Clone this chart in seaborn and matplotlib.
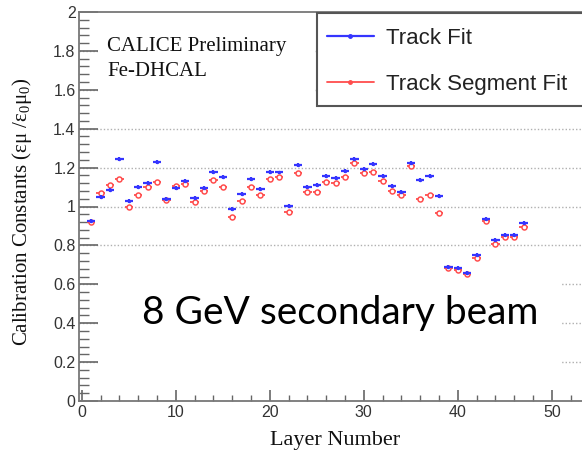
import numpy as np
import pandas as pd
import matplotlib
matplotlib.use("Agg")
import matplotlib.pyplot as plt
from matplotlib.lines import Line2D
from matplotlib.patches import Rectangle
from matplotlib.ticker import MultipleLocator
import seaborn as sns

# Calibration constants per layer for the two fit methods
layers = list(range(1, 48))
track_fit = [0.925, 1.047, 1.085, 1.245, 1.030, 1.098, 1.122, 1.227, 1.039, 1.093,
             1.131, 1.042, 1.093, 1.176, 1.150, 0.986, 1.064, 1.140, 1.088, 1.179,
             1.175, 1.003, 1.213, 1.098, 1.109, 1.158, 1.148, 1.183, 1.244, 1.193,
             1.217, 1.158, 1.107, 1.076, 1.222, 1.136, 1.158, 1.055, 0.690, 0.682,
             0.660, 0.751, 0.935, 0.828, 0.853, 0.853, 0.917]
segment_fit = [0.920, 1.071, 1.112, 1.140, 0.995, 1.059, 1.098, 1.126, 1.033, 1.105,
               1.116, 1.021, 1.081, 1.136, 1.098, 0.948, 1.028, 1.098, 1.059, 1.143,
               1.150, 0.971, 1.174, 1.076, 1.076, 1.128, 1.121, 1.150, 1.222, 1.171,
               1.176, 1.133, 1.080, 1.059, 1.208, 1.039, 1.061, 0.968, 0.685, 0.675,
               0.655, 0.734, 0.925, 0.807, 0.841, 0.841, 0.896]
series_names = ["Track Fit", "Track Segment Fit"]
yticks = [0, 0.2, 0.4, 0.6, 0.8, 1, 1.2, 1.4, 1.6, 1.8, 2]
xticks = [0, 10, 20, 30, 40, 50]

df = pd.DataFrame({
    "layer": layers * 2,
    "value": track_fit + segment_fit,
    "fit": [series_names[0]] * len(layers) + [series_names[1]] * len(layers),
})

sns.set_theme(style="white")
plt.rcParams["font.family"] = ["Liberation Sans", "DejaVu Sans"]
plt.rcParams["mathtext.fontset"] = "custom"
plt.rcParams["mathtext.rm"] = "Liberation Serif"
plt.rcParams["mathtext.it"] = "Liberation Serif"

W, H = 582, 451
fig = plt.figure(figsize=(W / 100, H / 100), dpi=100)
fig.patch.set_facecolor("white")

# axes placed in pixel terms; right side runs past the canvas edge
px_spine, py_bottom, py_top = 79, 401, 12
scale = 9.4
xmin, xmax = -0.3, 56
ax = fig.add_axes([px_spine / W, (H - py_bottom) / H,
                   (xmax - xmin) * scale / W, (py_bottom - py_top) / H])
ax.set_xlim(xmin, xmax)
ax.set_ylim(0, 2)

blue = "#3535ff"
red = "#ff4d4d"

# y gridlines (dotted)
for y in yticks[1:-1]:
    ax.axhline(y, color="#b0b0b0", lw=1.0, ls=(0, (1, 1.5)), zorder=0)

sub_b = df[df.fit == series_names[0]]
sub_r = df[df.fit == series_names[1]]

ax.errorbar(sub_r.layer, sub_r.value, xerr=0.45, yerr=0.008, fmt="none",
            ecolor=red, elinewidth=1.3, zorder=2)
sns.scatterplot(data=sub_r, x="layer", y="value", ax=ax, marker="o", s=13,
                facecolor="white", edgecolor=red, linewidth=1.1, zorder=3, legend=False)
ax.errorbar(sub_b.layer, sub_b.value, xerr=0.45, yerr=0.010, fmt="none",
            ecolor=blue, elinewidth=1.6, zorder=4)
sns.scatterplot(data=sub_b, x="layer", y="value", ax=ax, marker="o", s=6,
                color=blue, edgecolor=blue, linewidth=0, zorder=5, legend=False)

ax.set_xlabel("")
ax.set_ylabel("")
ax.set_xticks(xticks)
ax.set_yticks(yticks)
ax.set_yticklabels([f"{v:g}" for v in yticks])
ax.xaxis.set_minor_locator(MultipleLocator(2))
ax.yaxis.set_minor_locator(MultipleLocator(0.04))
ax.tick_params(axis="y", which="major", direction="in", length=14, width=1.2,
               color="#666666", labelsize=11.5, labelcolor="#333333", pad=2.5)
ax.tick_params(axis="y", which="minor", direction="in", length=7, width=1.0, color="#666666")
ax.tick_params(axis="x", which="major", direction="in", length=8, width=1.2,
               color="#666666", labelsize=11.5, labelcolor="#333333", pad=3)
ax.tick_params(axis="x", which="minor", direction="in", length=4, width=1.0, color="#666666")
ax.tick_params(left=True, bottom=True, which="both")
for side in ["left", "bottom", "top"]:
    ax.spines[side].set_color("#777777")
    ax.spines[side].set_linewidth(1.3)
ax.spines["right"].set_visible(False)


def px_rect(x0, y0, x1, y1, **kw):
    return Rectangle((x0 / W, 1 - y1 / H), (x1 - x0) / W, (y1 - y0) / H,
                     transform=fig.transFigure, **kw)


# white panels behind the annotations
fig.add_artist(px_rect(98, 28, 314, 100, facecolor="white", edgecolor="none", zorder=1))
fig.add_artist(px_rect(98, 278, 561, 390, facecolor="white", edgecolor="none", zorder=1))
fig.add_artist(px_rect(317, 13, 620, 106, facecolor="white", edgecolor="#555555",
                       linewidth=1.5, zorder=2))

serif = ["Liberation Serif", "DejaVu Serif"]
fig.text(107 / W, 1 - 47 / H, "CALICE Preliminary", family=serif, fontsize=15,
         ha="left", va="center", color="#111111", zorder=3)
fig.text(107 / W, 1 - 71 / H, "Fe-DHCAL", family=serif, fontsize=15,
         ha="left", va="center", color="#111111", zorder=3)
fig.text(340 / W, 1 - 313 / H, "8 GeV secondary beam", family=["Lato", "DejaVu Sans"],
         fontsize=28, ha="center", va="center", color="black", zorder=3)

fig.text(22 / W, 1 - 212 / H, "Calibration Constants (εμ /ε$_0$μ$_0$)",
         family=serif, fontsize=15, rotation=90, ha="center", va="center", color="#111111")
fig.text(335 / W, 1 - 440 / H, "Layer Number", family=serif, fontsize=16,
         ha="center", va="center", color="#111111")

handles = [Line2D([], [], color=blue, lw=1.6, marker="o", ms=2.5),
           Line2D([], [], color=red, lw=1.3, marker="o", ms=2.5)]
leg = fig.legend(handles, series_names, loc="upper left",
                 bbox_to_anchor=(327 / W, 1 - 28 / H), frameon=False, fontsize=16,
                 handlelength=2.1, handletextpad=0.55, labelspacing=1.12,
                 borderpad=0, borderaxespad=0)
leg.set_zorder(4)
for t in leg.get_texts():
    t.set_color("#222222")

fig.savefig("out.png", dpi=100, facecolor="white")
